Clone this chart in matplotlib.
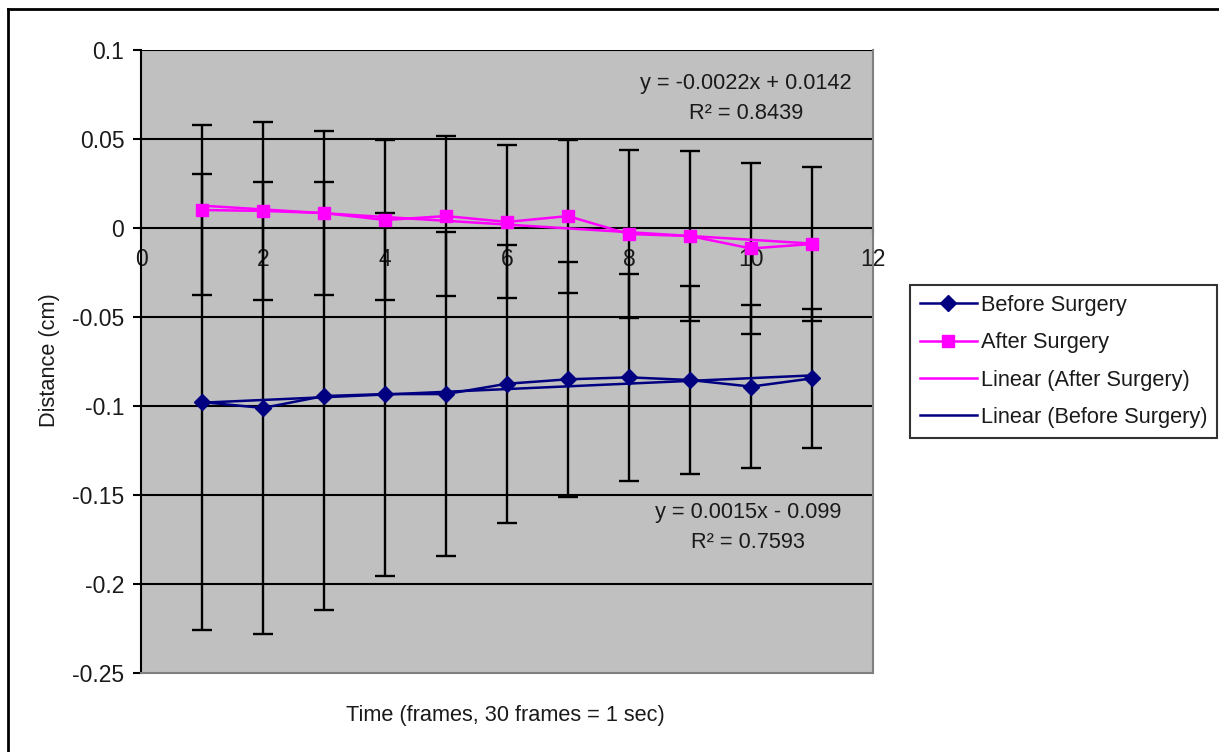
import matplotlib
matplotlib.use("Agg")
import matplotlib.pyplot as plt
import numpy as np
from matplotlib.lines import Line2D

plt.rcParams['font.family'] = ['Liberation Sans', 'DejaVu Sans']

frames = [1, 2, 3, 4, 5, 6, 7, 8, 9, 10, 11]
before = [-0.0978, -0.1011, -0.0944, -0.0933, -0.0933, -0.0875, -0.0850, -0.0839, -0.0854, -0.0891, -0.0845]
before_err = [0.128, 0.127, 0.120, 0.102, 0.091, 0.078, 0.066, 0.058, 0.053, 0.046, 0.039]
after = [0.0101, 0.0096, 0.0084, 0.0045, 0.0067, 0.0034, 0.0067, -0.0034, -0.0045, -0.0115, -0.0090]
after_err = [0.048, 0.050, 0.046, 0.045, 0.045, 0.043, 0.043, 0.047, 0.048, 0.048, 0.043]
after_eq = "y = -0.0022x + 0.0142\nR² = 0.8439"
before_eq = "y = 0.0015x - 0.099\nR² = 0.7593"
xticks = [0, 2, 4, 6, 8, 10, 12]
yticks = [0.1, 0.05, 0, -0.05, -0.1, -0.15, -0.2, -0.25]
ytick_labels = ["0.1", "0.05", "0", "-0.05", "-0.1", "-0.15", "-0.2", "-0.25"]

NAVY = '#000080'
MAG = '#FF00FF'
TXT = '#1a1a1a'
FS = 15.7
TFS = 16.5

fig = plt.figure(figsize=(12.19, 7.52), dpi=100)
fig.patch.set_facecolor('white')
# outer chart border (left and top visible)
fig.add_artist(Line2D([8/1219, 8/1219], [0, 1 - 9/752], transform=fig.transFigure, color='black', lw=2))
fig.add_artist(Line2D([8/1219, 1], [1 - 9/752, 1 - 9/752], transform=fig.transFigure, color='black', lw=2))

ax = fig.add_axes([141/1219, 1 - 673/752, (873 - 141)/1219, (673 - 50)/752])
ax.set_facecolor('#C0C0C0')
ax.set_xlim(0, 12)
ax.set_ylim(-0.25, 0.1)

# gridlines
for yv in yticks[:-1]:
    ax.axhline(yv, color='black', lw=1.5, zorder=1)

# spines
ax.spines['top'].set_visible(False)
ax.spines['right'].set_color('#808080')
ax.spines['bottom'].set_color('#808080')
ax.spines['right'].set_linewidth(1.5)
ax.spines['bottom'].set_linewidth(1.5)
ax.spines['left'].set_color('black')
ax.spines['left'].set_linewidth(1.5)

ax.set_yticks(yticks)
ax.set_yticklabels(ytick_labels)
ax.tick_params(axis='y', direction='out', length=6, width=1.5, color='black',
               labelsize=TFS, labelcolor=TXT, pad=6)
ax.set_xticks([])

# x axis at y=0 with ticks and labels
for xv in xticks:
    ax.plot([xv, xv], [0, -0.003], color='black', lw=1.5, zorder=2, clip_on=False)
    ax.text(xv, -0.0115, str(xv), ha='center', va='top', fontsize=TFS, color=TXT, zorder=2)

# error bars
ax.errorbar(frames, before, yerr=before_err, fmt='none', ecolor='black', elinewidth=1.7,
            capsize=7, capthick=1.7, zorder=3)
ax.errorbar(frames, after, yerr=after_err, fmt='none', ecolor='black', elinewidth=1.7,
            capsize=7, capthick=1.7, zorder=3)

# trend lines
x = np.array(frames, dtype=float)
pb = np.polyfit(x, before, 1)
pa = np.polyfit(x, after, 1)
xs = np.array([1.0, 11.0])
ax.plot(xs, np.polyval(pa, xs), color=MAG, lw=1.8, zorder=4)
ax.plot(xs, np.polyval(pb, xs), color=NAVY, lw=1.8, zorder=4)

# data series
ax.plot(frames, before, color=NAVY, lw=1.8, marker='D', markersize=8, zorder=5)
ax.plot(frames, after, color=MAG, lw=1.8, marker='s', markersize=8, zorder=5)

# equations
ax.text(9.92, 0.0728, after_eq, ha='center', va='center', fontsize=FS, color=TXT,
        multialignment='center', linespacing=1.55, zorder=6)
ax.text(9.95, -0.1682, before_eq, ha='center', va='center', fontsize=FS, color=TXT,
        multialignment='center', linespacing=1.55, zorder=6)

# labels
fig.text(50/1219, 1 - 360/752, "Distance (cm)", rotation=90, ha='center', va='center',
         fontsize=FS, color=TXT)
fig.text(505/1219, 1 - 715/752, "Time (frames, 30 frames = 1 sec)", ha='center', va='center',
         fontsize=FS, color=TXT)

# legend
handles = [
    Line2D([], [], color=NAVY, lw=1.8, marker='D', markersize=8),
    Line2D([], [], color=MAG, lw=1.8, marker='s', markersize=8),
    Line2D([], [], color=MAG, lw=1.8),
    Line2D([], [], color=NAVY, lw=1.8),
]
labels = ["Before Surgery", "After Surgery", "Linear (After Surgery)", "Linear (Before Surgery)"]
leg = fig.legend(handles, labels, loc='upper left', bbox_to_anchor=(910/1219, 1 - 285/752),
                 fontsize=FS, frameon=True, fancybox=False, edgecolor='black',
                 handlelength=2.6, handletextpad=0.2, labelspacing=0.75, borderpad=0.45,
                 borderaxespad=0)
leg.get_frame().set_linewidth(1.5)
for t in leg.get_texts():
    t.set_color(TXT)

fig.savefig('out.png', dpi=100)
